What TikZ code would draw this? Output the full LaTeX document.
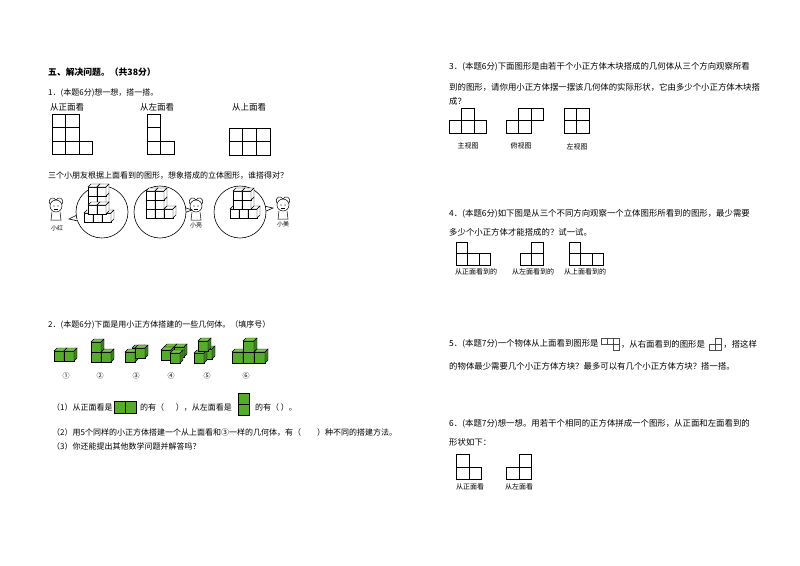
\documentclass[tikz,border=0pt]{standalone}
\usepackage{fontspec}
\setmainfont{Noto Sans CJK SC}
\definecolor{gfront}{RGB}{86,170,44}
\definecolor{gtop}{RGB}{120,196,70}
\definecolor{gside}{RGB}{60,130,30}
\tikzset{
 t/.style={anchor=west,inner sep=0pt,font=\fontsize{8}{9}\selectfont},
 tr/.style={anchor=west,inner sep=0pt,font=\fontsize{8.4}{9}\selectfont},
 lab/.style={anchor=center,inner sep=0pt,font=\fontsize{7}{8}\selectfont},
 cell/.style={draw=black,line width=0.6pt},
 gc/.style={draw=black,line width=0.4pt},
 bubble/.style={draw=black,line width=0.6pt,fill=white}
}
\newcommand{\gcube}[4]{% x y s d
 \filldraw[fill=gfront,gc] (#1,#2) rectangle ++(#3,#3);
 \filldraw[fill=gtop,gc] (#1,#2) -- ++(#4,-#4) -- ++(#3,0) -- ++(-#4,#4) -- cycle;
 \filldraw[fill=gside,gc] (#1+#3,#2) -- ++(#4,-#4) -- ++(0,#3) -- ++(-#4,#4) -- cycle;}
\newcommand{\wcube}[4]{%
 \filldraw[fill=white,gc] (#1,#2) rectangle ++(#3,#3);
 \filldraw[fill=white,gc] (#1,#2) -- ++(#4,-#4) -- ++(#3,0) -- ++(-#4,#4) -- cycle;
 \filldraw[fill=white,gc] (#1+#3,#2) -- ++(#4,-#4) -- ++(0,#3) -- ++(-#4,#4) -- cycle;}
\newcommand{\sq}[3]{\draw[cell] (#1,#2) rectangle ++(#3,#3);}
\newcommand{\kid}[2]{%
 \draw[line width=0.5pt] (#1,#2) circle (6);
 \draw[line width=0.5pt] (#1-6,#2-2) .. controls (#1-9,#2-8) and (#1-2,#2-10) .. (#1,#2-6) .. controls (#1+2,#2-10) and (#1+9,#2-8) .. (#1+6,#2-2);
 \fill (#1-2,#2) circle (0.7); \fill (#1+2,#2) circle (0.7);
 \draw[line width=0.4pt] (#1-2,#2+3) -- (#1+2,#2+3);
 \draw[line width=0.5pt] (#1-4,#2+6) -- (#1-5,#2+14) -- (#1+5,#2+14) -- (#1+4,#2+6);}
\begin{document}
\begin{tikzpicture}[x=1pt,y=-1pt]
\useasboundingbox (0,0) rectangle (800,565);
\fill[white] (0,0) rectangle (800,565);
% ---------- left column
\node[t,font=\fontsize{8.8}{9}\bfseries\selectfont] (h) at (48,72) {五、解决问题。（共38分）};
\node[t] (q1) at (48,93) {1．(本题6分)想一想，搭一搭。};
\node[t,font=\fontsize{8.5}{9}\selectfont] (v1) at (50,107) {从正面看};
\node[t,font=\fontsize{8.5}{9}\selectfont] (v2) at (140,107) {从左面看};
\node[t,font=\fontsize{8.5}{9}\selectfont] (v3) at (232,107) {从上面看};
\foreach \i/\j in {0/0,1/0,0/1,1/1,0/2,1/2,2/2} {\sq{52+13.4*\i}{114+13.4*\j}{13.4}}
\foreach \i/\j in {0/0,0/1,0/2,1/2} {\sq{147+13.4*\i}{114+13.4*\j}{13.4}}
\foreach \i/\j in {0/0,1/0,2/0,0/1,1/1,2/1} {\sq{229+13.6*\i}{128+13.6*\j}{13.6}}
\node[t] (q1b) at (48,176) {三个小朋友根据上面看到的图形，想象搭成的立体图形，谁搭得对？};
% bubbles
\filldraw[bubble] (77,215) -- (69,219) -- (78,221) -- cycle;
\draw[bubble] (102,212) circle (26);
\fill[white] (79,216) -- (77,220) -- (80,220);
\filldraw[bubble] (183,207) -- (192,210) -- (184,213) -- cycle;
\draw[bubble] (160,212) circle (26);
\fill[white] (183,208) -- (185,212) -- (182,212);
\filldraw[bubble] (264,206) -- (273,208) -- (264,212) -- cycle;
\draw[bubble] (240,212) circle (26);
\fill[white] (263,207) -- (265,211) -- (262,211);
% cubes in bubble 1
\foreach \y in {196,187} {\wcube{88}{\y}{9}{3}\wcube{97}{\y}{9}{3}}
\wcube{84}{213}{9}{3}\wcube{93}{213}{9}{3}\wcube{102}{213}{9}{3}
\wcube{88}{205}{9}{3}\wcube{97}{205}{9}{3}
% bubble 2
\foreach \y in {209,200,191} {\wcube{146}{\y}{9}{3}\wcube{155}{\y}{9}{3}}
\wcube{164}{209}{9}{3}
% bubble 3
\wcube{230}{209}{9}{3}\wcube{239}{209}{9}{3}\wcube{248}{209}{9}{3}
\wcube{233}{200}{9}{3}\wcube{242}{200}{9}{3}
\wcube{233}{191}{9}{3}\wcube{242}{191}{9}{3}
% kids
\kid{56}{206}
\node[lab,font=\fontsize{6}{7}\selectfont] (k1) at (57,228) {小红};
\kid{196}{206}
\node[lab,font=\fontsize{6}{7}\selectfont] (k2) at (196,225) {小亮};
\kid{283}{205}
\node[lab,font=\fontsize{6}{7}\selectfont] (k3) at (283,224) {小美};
% ---------- section 2
\node[t] (q2) at (48,325) {2．(本题6分)下面是用小正方体搭建的一些几何体。（填序号）};
\gcube{54}{351}{10}{3}\gcube{64}{351}{10}{3}
\gcube{91}{352}{10}{3}\gcube{101}{352}{10}{3}\gcube{91}{342}{10}{3}
\gcube{132}{348}{10}{3}\gcube{125}{352}{10}{3}\gcube{135}{348}{10}{3}
\gcube{164}{347}{10}{3}\gcube{174}{347}{10}{3}\gcube{161}{350}{10}{3}\gcube{170}{353}{10}{3}
\gcube{202}{349}{10}{3}\gcube{194}{353}{10}{3}\gcube{198}{341}{10}{3}
\gcube{232}{352}{11}{3}\gcube{243}{352}{11}{3}\gcube{254}{352}{11}{3}\gcube{243}{341}{11}{3}
\foreach \n/\x in {①/66,②/100,③/136,④/171,⑤/207,⑥/246} {\node[lab] (c\x) at (\x,376) {\n};}
\node[t] (p1) at (52,407) {（1）从正面看是};
\filldraw[fill=gfront,gc] (114,401) rectangle ++(11,12); \filldraw[fill=gfront,gc] (125,401) rectangle ++(11,12);
\node[t] (p1b) at (140,407) {的有（\quad\ \ ），从左面看是};
\filldraw[fill=gfront,gc] (238,393) rectangle ++(11,11); \filldraw[fill=gfront,gc] (238,404) rectangle ++(11,11);
\node[t] (p1c) at (255,407) {的有（ ）。};
\node[t] (p2) at (52,432) {（2）用5个同样的小正方体搭建一个从上面看和③一样的几何体，有（\qquad）种不同的搭建方法。};
\node[t] (p3) at (52,446) {（3）你还能提出其他数学问题并解答吗？};
% ---------- right column
\node[tr] (q3a) at (449,67) {3．(本题6分)下面图形是由若干个小正方体木块搭成的几何体从三个方向观察所看};
\node[tr] (q3b) at (449,87) {到的图形，请你用小正方体摆一摆该几何体的实际形状，它由多少个小正方体木块搭};
\node[tr] (q3c) at (449,101) {成？};
\foreach \i/\j in {1/0,0/1,1/1,2/1} {\sq{449+12.5*\i}{108+12.5*\j}{12.5}}
\foreach \i/\j in {1/0,2/0,0/1,1/1} {\sq{506+12.5*\i}{108+12.5*\j}{12.5}}
\foreach \i/\j in {0/0,1/0,0/1,1/1} {\sq{564+12.5*\i}{108+12.5*\j}{12.5}}
\node[lab] (l3a) at (468,146) {主视图};
\node[lab] (l3b) at (521,146) {俯视图};
\node[lab] (l3c) at (577,147) {左视图};
\node[tr] (q4a) at (449,214) {4．(本题6分)如下图是从三个不同方向观察一个立体图形所看到的图形，最少需要};
\node[tr] (q4b) at (449,232) {多少个小正方体才能搭成的？试一试。};
\foreach \i/\j in {0/0,0/1,1/1,2/1} {\sq{456+11.5*\i}{242+11.5*\j}{11.5}}
\foreach \i/\j in {1/0,0/1,1/1} {\sq{520+11.5*\i}{242+11.5*\j}{11.5}}
\foreach \i/\j in {0/0,0/1,1/1,2/1} {\sq{569+11.5*\i}{242+11.5*\j}{11.5}}
\node[lab] (l4a) at (476,272) {从正面看到的};
\node[lab] (l4b) at (533,272) {从左面看到的};
\node[lab] (l4c) at (585,272) {从上面看到的};
\node[tr] (q5a) at (449,344) {5．(本题7分)一个物体从上面看到图形是};
\begin{scope}[shift={(q5a.east)}]
\foreach \i/\j in {0/0,1/0,2/0,2/1} {\draw[gc,draw=black!70] (2+6*\i,-6+6*\j) rectangle ++(6,6);}
\end{scope}
\node[tr] (q5a2) at ([xshift=22pt]q5a.east) {，从右面看到的图形是};
\begin{scope}[shift={(q5a2.east)}]
\foreach \i/\j in {1/0,0/1,1/1} {\draw[gc,draw=black!70] (4+6*\i,-6+6*\j) rectangle ++(6,6);}
\end{scope}
\node[tr] (q5a3) at ([xshift=18pt]q5a2.east) {，搭这样};
\node[tr] (q5b) at (449,366) {的物体最少需要几个小正方体方块？最多可以有几个小正方体方块？搭一搭。};
\node[tr] (q6a) at (449,424) {6．(本题7分)想一想。用若干个相同的正方体拼成一个图形，从正面和左面看到的};
\node[tr] (q6b) at (449,442) {形状如下：};
\foreach \i/\j in {0/0,0/1,1/1} {\draw[cell,line width=0.4pt] (456+12.7*\i,454+12.7*\j) rectangle ++(12.7,12.7);}
\foreach \i/\j in {1/0,0/1,1/1} {\draw[cell,line width=0.4pt] (506+12.7*\i,454+12.7*\j) rectangle ++(12.7,12.7);}
\node[lab] (l6a) at (470,487) {从正面看};
\node[lab] (l6b) at (519,487) {从左面看};
\end{tikzpicture}
\end{document}
